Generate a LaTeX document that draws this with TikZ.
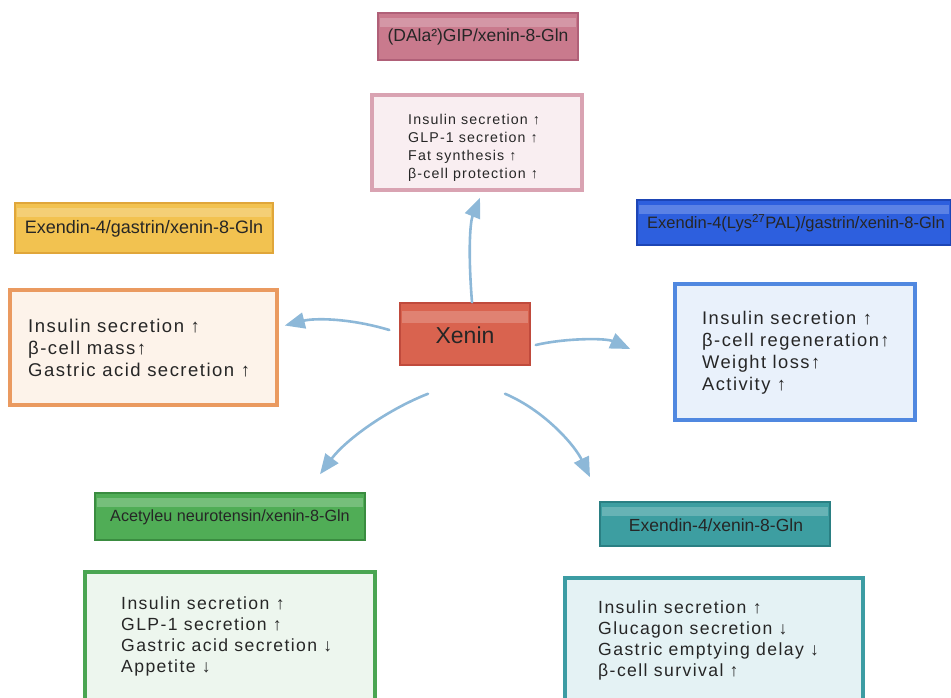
\documentclass[tikz,border=0pt]{standalone}
\usepackage{fontspec}
\setmainfont{Liberation Sans}
\newfontfamily\bodyfont[LetterSpace=8]{Liberation Sans}
\usetikzlibrary{arrows.meta,calc}
\definecolor{pinkF}{HTML}{C97A8D}\definecolor{pinkD}{HTML}{B06078}
\definecolor{pinkB}{HTML}{F9EEF1}\definecolor{pinkE}{HTML}{D9A3B2}
\definecolor{goldF}{HTML}{F2C250}\definecolor{goldD}{HTML}{E0A63A}
\definecolor{orgB}{HTML}{FDF3EA}\definecolor{orgE}{HTML}{EA9A60}
\definecolor{redF}{HTML}{D9634F}\definecolor{redD}{HTML}{C04A3C}
\definecolor{bluF}{HTML}{2D5FDE}\definecolor{bluD}{HTML}{1D45B5}
\definecolor{bluB}{HTML}{E9F1FB}\definecolor{bluE}{HTML}{5088E0}
\definecolor{grnF}{HTML}{50AD56}\definecolor{grnD}{HTML}{3A8C40}
\definecolor{grnB}{HTML}{EDF6EE}\definecolor{grnE}{HTML}{4AA552}
\definecolor{tealF}{HTML}{3D9EA1}\definecolor{tealD}{HTML}{2A7F83}
\definecolor{tealB}{HTML}{E4F2F4}\definecolor{tealE}{HTML}{3C9CA3}
\definecolor{arrC}{HTML}{8DB8D8}
\tikzset{
  titlebox/.style n args={2}{draw=#2, fill=#1, line width=1.5pt, inner sep=0pt,
    path picture={\fill[white,opacity=0.22] ([shift={(2pt,-5pt)}]path picture bounding box.north west) rectangle ([shift={(-2pt,-14pt)}]path picture bounding box.north east);}},
  bodybox/.style n args={2}{draw=#2, fill=#1, line width=3.5pt, inner sep=0pt},
  bodytext/.style={anchor=west, align=left, inner sep=0pt, font=\bodyfont\fontsize{18.5}{22}\selectfont, text=black!85},
  ttext/.style={font=\fontsize{#1}{#1}\selectfont, text=black!85},
  flow/.style={draw=arrC, line width=2.6pt, -{Triangle[length=20pt,width=16pt]}, line cap=round}
}
\begin{document}
\begin{tikzpicture}[x=1pt,y=-1pt]
\useasboundingbox (0,0) rectangle (951,698);
\clip (0,0) rectangle (951,698);
% top
\node[titlebox={pinkF}{pinkD}, minimum width=200pt, minimum height=47pt] (tt) at (478,36.5) {};
\node[ttext=17.5] (ttx) at (478,37) {(DAla²)GIP/xenin-8-Gln};
\node[bodybox={pinkB}{pinkE}, minimum width=210pt, minimum height=95pt] (bt) at (477,142.5) {};
\node[bodytext, font=\bodyfont\fontsize{14.2}{18}\selectfont] (btx) at (408,148) {Insulin secretion ↑\\GLP-1 secretion ↑\\Fat synthesis ↑\\β-cell protection ↑};
% left
\node[titlebox={goldF}{goldD}, minimum width=258pt, minimum height=50pt] (tl) at (144,228) {};
\node[ttext=18] (tlx) at (144,229) {Exendin-4/gastrin/xenin-8-Gln};
\node[bodybox={orgB}{orgE}, minimum width=267pt, minimum height=115pt] (bl) at (143.5,347.5) {};
\node[bodytext] (blx) at (28,348) {Insulin secretion ↑\\β-cell mass↑\\Gastric acid secretion ↑};
% center
\node[titlebox={redF}{redD}, minimum width=130pt, minimum height=62pt, path picture={\fill[white,opacity=0.2] ([shift={(2pt,-8pt)}]path picture bounding box.north west) rectangle ([shift={(-2pt,-20pt)}]path picture bounding box.north east);}] (xen) at (465,334) {};
\node[ttext=23] (xenx) at (465,335) {Xenin};
% right
\node[titlebox={bluF}{bluD}, minimum width=314pt, minimum height=45pt] (tr) at (794,222.5) {};
\node[ttext=16.5] (trx) at (796,223) {Exendin-4(Lys\textsuperscript{27}PAL)/gastrin/xenin-8-Gln};
\node[bodybox={bluB}{bluE}, minimum width=240pt, minimum height=136pt] (br) at (795,352) {};
\node[bodytext, font=\bodyfont\fontsize{18.3}{22}\selectfont] (brx) at (702,353) {Insulin secretion ↑\\β-cell regeneration↑\\Weight loss↑\\Activity ↑};
% bottom left
\node[titlebox={grnF}{grnD}, minimum width=270pt, minimum height=47pt] (tbl) at (230,516.5) {};
\node[ttext=16.2] (tblx) at (230,517) {Acetyleu neurotensin/xenin-8-Gln};
\node[bodybox={grnB}{grnE}, minimum width=290pt, minimum height=143pt] (bbl) at (230,643.5) {};
\node[bodytext, font=\bodyfont\fontsize{17.6}{21}\selectfont] (bblx) at (121,636.5) {Insulin secretion ↑\\GLP-1 secretion ↑\\Gastric acid secretion ↓\\Appetite ↓};
% bottom right
\node[titlebox={tealF}{tealD}, minimum width=230pt, minimum height=44pt] (tbr) at (715,524) {};
\node[ttext=17.5] (tbrx) at (716,525) {Exendin-4/xenin-8-Gln};
\node[bodybox={tealB}{tealE}, minimum width=298pt, minimum height=137pt] (bbr) at (714,646.5) {};
\node[bodytext, font=\bodyfont\fontsize{17.6}{21}\selectfont] (bbrx) at (598,640.5) {Insulin secretion ↑\\Glucagon secretion ↓\\Gastric emptying delay ↓\\β-cell survival ↑};
% arrows
\draw[flow] ($(xen.north)+(7,0)$) .. controls ($(xen.north)+(3,-50)$) and ($(xen.north)+(5,-80)$) .. ($(bt.south)+(3,6)$);
\draw[flow] ($(xen.west)+(-10,-4)$) .. controls ($(xen.west)+(-50,-16)$) and ($(xen.west)+(-85,-16)$) .. ($(bl.east)+(6,-22)$);
\draw[flow] ($(xen.east)+(5,11)$) .. controls ($(xen.east)+(35,4)$) and ($(xen.east)+(75,4)$) .. ($(br.west)+(-43,-3)$);
\draw[flow] ($(xen.south)+(-37,28)$) .. controls ($(xen.south)+(-80,45)$) and ($(xen.south)+(-120,75)$) .. ($(tbl.north)+(90,-18)$);
\draw[flow] ($(xen.south)+(40,28)$) .. controls ($(xen.south)+(80,45)$) and ($(xen.south)+(110,80)$) .. ($(tbr.north)+(-125,-24)$);
\end{tikzpicture}
\end{document}
